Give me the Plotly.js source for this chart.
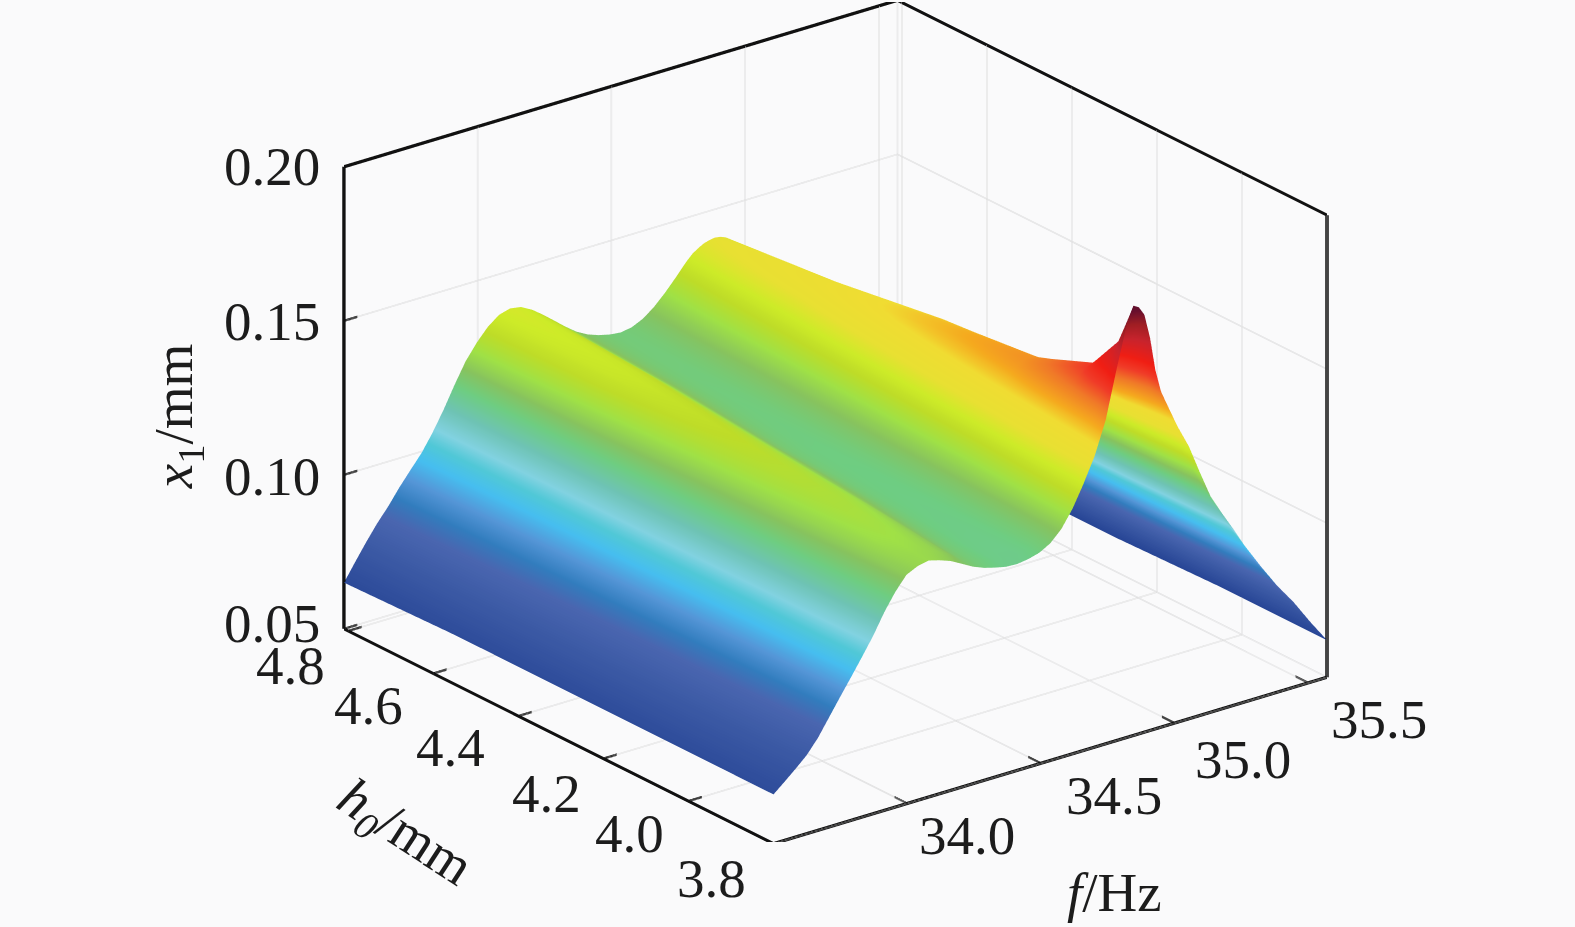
<!DOCTYPE html>
<html><head><meta charset="utf-8">
<script src="https://cdn.plot.ly/plotly-3.0.1.min.js"></script>
<style>html,body{margin:0;padding:0;background:#fafafb}#g{width:1575px;height:927px}</style>
</head><body><div id="g"></div>
<script>
const fHz=[33.5,33.541,33.583,33.624,33.666,33.707,33.748,33.79,33.831,33.873,33.914,33.955,33.997,34.038,34.08,34.121,34.162,34.204,34.245,34.287,34.328,34.369,34.411,34.452,34.494,34.535,34.576,34.618,34.659,34.701,34.742,34.763,34.783,34.804,34.825,34.846,34.866,34.887,34.908,34.928,34.949,34.97,35.011,35.053,35.094,35.135,35.177,35.218,35.26,35.322,35.384,35.446,35.508,35.57];
const h0mm=[4.81,4.55,4.3,4.05,3.9,3.83,3.8];
const zH481=[.065,.0705,.076,.081,.0855,.0905,.095,.0995,.105,.1115,.1185,.125,.130,.134,.1368,.1378,.1372,.1352,.1325,.1295,.1265,.1238,.1218,.1205,.1196,.1192,.1198,.1215,.1242,.1278,.1318,.134,.136,.1378,.139,.140,.1405,.1408,.1405,.1398,.1385,.1365,.1315,.1255,.1195,.1135,.108,.1025,.0975,.0895,.0815,.074,.067,.060];
const zH455=[.066,.0708,.0755,.080,.0845,.089,.094,.0985,.104,.1105,.1175,.124,.129,.133,.1352,.1358,.135,.133,.1302,.1272,.1244,.1222,.1205,.1194,.1188,.119,.1205,.1228,.1265,.131,.1355,.1375,.1395,.1412,.1428,.1438,.1443,.1445,.1442,.1433,.1418,.1395,.1345,.1285,.1222,.1162,.110,.1045,.0995,.091,.083,.075,.068,.061];
const zH430=[.066,.0705,.0748,.079,.083,.088,.093,.098,.1035,.110,.1165,.1225,.127,.1305,.1325,.1332,.132,.1298,.127,.1242,.1216,.1198,.1188,.1183,.1183,.1192,.1212,.1245,.129,.1345,.140,.1425,.145,.1472,.1488,.1497,.150,.150,.1495,.1485,.1468,.144,.1385,.1325,.126,.1195,.113,.107,.1015,.0925,.084,.076,.0685,.061];
const zH405=[.066,.0702,.074,.078,.082,.087,.092,.097,.1025,.109,.1155,.1215,.126,.1285,.130,.130,.129,.1268,.124,.1218,.120,.1187,.118,.1178,.118,.1192,.122,.1265,.132,.139,.1455,.149,.1515,.1535,.1545,.155,.155,.1545,.1532,.1515,.149,.1465,.1405,.134,.1275,.121,.1145,.108,.1025,.093,.085,.077,.0695,.062];
const zH390=[.066,.0696,.073,.077,.081,.086,.0915,.097,.1025,.1085,.115,.1205,.125,.1275,.1282,.1278,.1265,.1245,.122,.120,.1188,.1178,.1175,.1175,.118,.1198,.123,.1285,.135,.1425,.150,.155,.159,.1615,.163,.1635,.1635,.162,.160,.156,.1525,.1495,.144,.137,.1295,.1225,.116,.109,.1035,.094,.086,.078,.070,.062];
const zH383=[.066,.0693,.0725,.0765,.0805,.0855,.0912,.0965,.102,.108,.1145,.120,.1245,.1262,.127,.1265,.1255,.1235,.121,.1195,.1185,.1175,.1172,.1172,.118,.120,.1235,.1295,.136,.144,.1525,.159,.165,.170,.174,.1765,.177,.1755,.172,.1655,.1595,.1535,.1455,.1385,.131,.1235,.1165,.1095,.104,.0945,.0865,.0785,.0705,.062];
const zH380=[.066,.069,.0722,.0755,.080,.0855,.091,.0965,.102,.1078,.1143,.1198,.1243,.126,.1268,.1258,.1245,.1225,.1205,.119,.118,.1172,.117,.1175,.1185,.1205,.124,.1295,.1365,.1445,.155,.163,.1705,.178,.1855,.1895,.1885,.1855,.1775,.1665,.159,.1545,.146,.1385,.129,.120,.1135,.1075,.101,.0925,.0845,.0775,.0695,.062];
const zRows=[zH481,zH455,zH430,zH405,zH390,zH383,zH380];

const colorLevels=[.05,.062,.075,.083,.088,.093,.098,.102,.106,.112,.118,.123,.128,.133,.137,.141,.148,.152,.158,.163,.168,.176,.182,.187,.19];
const colorValues=['#233c8c','#284696','#3c5aa5','#4a66b0','#327dbe','#5596d7','#46bef0','#50c8d7','#82d2e1','#6ec3b4','#6ecd82','#87c35f','#a0e146','#bedc28','#cdeb28','#e8e032','#f0dc32','#f5aa1e','#f07828','#f03c28','#f01e14','#c8232d','#a01e23','#690f2d','#5f0f2d'];
const zMin=.05,zMax=.19;

const zTicks=[.05,.10,.15,.20], zTickText=['0.05','0.10','0.15','0.20'];
const fTicks=[34,34.5,35,35.5], fTickText=['34.0','34.5','35.0','35.5'];
const hTicks=[4.8,4.6,4.4,4.2,4.0,3.8], hTickText=['4.8','4.6','4.4','4.2','4.0','3.8'];
const fRange=[33.5,35.57], hRange=[3.8,4.81], zRange=[.05,.20];
const fPad=.012,hPad=.007,zPad=.001;

const zLabelShift=[[-72,5],[-72,-2],[-72,-1],[-72,0]];
const hLabelShift=[[-58,-35],[-65,-32],[-68,-32],[-57,-35],[-59,-33],[-62,-35]];
const fLabelShift=[[60,-32],[73,-33],[68,-37],[71,-37]];

const font={family:'"Liberation Serif",serif',size:55,color:'#1c1c1c'};
const colorscale=colorLevels.map((v,i)=>[(v-zMin)/(zMax-zMin),colorValues[i]]);
const note=(x,y,z,text,sh,extra)=>Object.assign({x,y,z,text,showarrow:false,font,xanchor:'center',yanchor:'middle',xshift:sh[0],yshift:sh[1]},extra||{});
const annotations=[
 ...zTicks.map((v,i)=>note(fRange[0],hRange[1],v,zTickText[i],zLabelShift[i])),
 ...hTicks.map((v,i)=>note(fRange[0],v,zRange[0],hTickText[i],hLabelShift[i])),
 ...fTicks.map((v,i)=>note(v,hRange[0],zRange[0],fTickText[i],fLabelShift[i])),
 note(fRange[0],hRange[1],.119,'<i>x</i><sub>1</sub>/mm',[-167,0],{textangle:-90}),
 note(fRange[0],4.67,zRange[0],'<i>h<sub>0</sub></i>/mm',[0,-176],{textangle:33}),
 note(34.775,hRange[0],zRange[0],'<i>f</i>/Hz',[0,-152])
];
const zPerPx=.15/460,fPerPx=2.07/552,hPerPx=1.01/426;
const offset=(s,k)=>{
 const vertical=s[0][0]===s[1][0]&&s[0][1]===s[1][1];
 return vertical?[k*fPerPx/2,-k*hPerPx/2,0]:[0,0,k*zPerPx];
};
// headless WebGL draws 1px lines, so light lines are parallel copies
function lineTrace(list,color,copies){
 const x=[],y=[],z=[];
 list.forEach(s=>copies.forEach(k=>{
  const d=offset(s,k);
  x.push(s[0][0]+d[0],s[1][0]+d[0],null);y.push(s[0][1]+d[1],s[1][1]+d[1],null);z.push(s[0][2]+d[2],s[1][2]+d[2],null);
 }));
 return {type:'scatter3d',mode:'lines',x,y,z,line:{color,width:1},hoverinfo:'skip',showlegend:false,connectgaps:false};
}
// solid black edges are thin ribbons
function ribbonTrace(list,color,halfWidth){
 const x=[],y=[],z=[],i=[],j=[],k=[];
 list.forEach((s,n)=>{
  const d=offset(s,halfWidth),b=n*4;
  [[s[0],-1],[s[1],-1],[s[1],1],[s[0],1]].forEach(p=>{x.push(p[0][0]+p[1]*d[0]);y.push(p[0][1]+p[1]*d[1]);z.push(p[0][2]+p[1]*d[2]);});
  i.push(b,b);j.push(b+1,b+2);k.push(b+2,b+3);
 });
 return {type:'mesh3d',x,y,z,i,j,k,color,flatshading:true,lighting:{ambient:1,diffuse:0,specular:0,roughness:1,fresnel:0},hoverinfo:'skip',showscale:false,showlegend:false};
}
const [f0,f1]=fRange,[h0,h1]=hRange,[z0,z1]=zRange;
const gridSegs=[];
fTicks.forEach(v=>{gridSegs.push([[v,h1,z0],[v,h1,z1]],[[v,h0,z0],[v,h1,z0]]);});
hTicks.forEach(v=>{gridSegs.push([[f1,v,z0],[f1,v,z1]],[[f0,v,z0],[f1,v,z0]]);});
zTicks.filter(v=>v<z1).forEach(v=>{gridSegs.push([[f0,h1,v],[f1,h1,v]],[[f1,h0,v],[f1,h1,v]]);});
gridSegs.push([[f1,h1,z0],[f1,h1,z1]]);
const tickF=.05,tickH=.03;
const boxSegs=[
 [[f0,h0,z0],[f1,h0,z0]],[[f0,h0,z0],[f0,h1,z0]],[[f0,h1,z0],[f0,h1,z1]],[[f1,h0,z0],[f1,h0,z1]],
 [[f0,h1,z1],[f1,h1,z1]],[[f1,h0,z1],[f1,h1,z1]]];
const tickSegs=[
 ...fTicks.map(v=>[[v,h0,z0],[v,h0+tickH,z0]]),
 ...hTicks.map(v=>[[f0,v,z0],[f0+tickF,v,z0]]),
 ...zTicks.map(v=>[[f0,h1,v],[f0+tickF,h1,v]])
];
const axis=(r,p)=>({range:[r[0]-p,r[1]+p],showticklabels:false,title:{text:''},showline:false,ticks:'',showgrid:false,zeroline:false,showbackground:false,showspikes:false});
const scale=4;
Plotly.newPlot('g',[
 lineTrace(gridSegs,'#dedede',[-.5,.5]),
 {type:'surface',x:fHz,y:h0mm,z:zRows,colorscale,cmin:zMin,cmax:zMax,showscale:false,hoverinfo:'skip',
  lighting:{ambient:1,diffuse:0,specular:0,roughness:1,fresnel:0}},
 ribbonTrace(boxSegs,'#111111',1.7),
 ribbonTrace(tickSegs,'#111111',1.2)],
 {width:1575,height:927,margin:{l:0,r:0,t:0,b:0},paper_bgcolor:'#fafafb',showlegend:false,
  scene:{domain:{x:[.061,1],y:[.092,.998]},bgcolor:'#fafafb',aspectmode:'manual',aspectratio:{x:1.687,y:1.692,z:1.2095},
   camera:{projection:{type:'orthographic'},up:{x:0,y:0,z:1},center:{x:0,y:0,z:0},eye:{x:-.5647*scale,y:-.7282*scale,z:.3878*scale}},
   xaxis:axis(fRange,fPad),yaxis:axis(hRange,hPad),zaxis:axis(zRange,zPad),annotations}},
 {displayModeBar:false});
</script></body></html>
